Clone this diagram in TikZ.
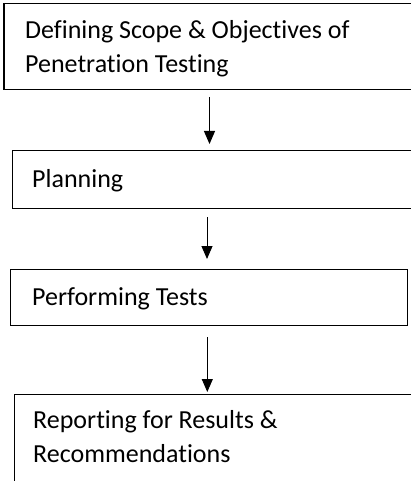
\documentclass[tikz,border=0pt]{standalone}
\usepackage{fontspec}
\setmainfont{Carlito}[RawFeature=-liga]
\usetikzlibrary{arrows.meta}
\begin{document}
\begin{tikzpicture}[x=1pt,y=-1pt,
  stepbox/.style={draw=black,line width=1.3pt,fill=white,anchor=north west,inner sep=0pt},
  steptext/.style={anchor=base west,inner sep=0pt,font=\fontsize{26}{34}\selectfont,align=left},
  flow/.style={line width=1pt,-{Triangle[width=11pt,length=13pt]}}]
\useasboundingbox (0,0) rectangle (411,481);
\clip (0,0) rectangle (411,481);
\fill[white] (0,0) rectangle (411,481);
% boxes
\node[stepbox,minimum width=430pt,minimum height=86pt] (b1) at (3.3,3) {};
\node[stepbox,minimum width=430pt,minimum height=58pt] (b2) at (12,150) {};
\node[stepbox,minimum width=397.5pt,minimum height=56pt] (b3) at (9.5,269) {};
\node[stepbox,minimum width=430pt,minimum height=100pt] (b4) at (13.5,394) {};
% texts (multi-line: anchor is baseline of last line)
\node[steptext] (t1) at (25,73) {Defining Scope \& Objectives of\\Penetration Testing};
\node[steptext] (t2) at (32,187) {Planning};
\node[steptext] (t3) at (32,305) {Performing Tests};
\node[steptext] (t4) at (33,462) {Reporting for Results \&\\Recommendations};
% arrow ends
\coordinate (a1s) at (209.5,97);
\coordinate (a1e) at (209.5,144);
\coordinate (a2s) at (207,217);
\coordinate (a2e) at (207,259);
\coordinate (a3s) at (207.3,337);
\coordinate (a3e) at (207.3,392);
\draw[flow] (a1s) -- (a1e);
\draw[flow] (a2s) -- (a2e);
\draw[flow] (a3s) -- (a3e);
\end{tikzpicture}
\end{document}
